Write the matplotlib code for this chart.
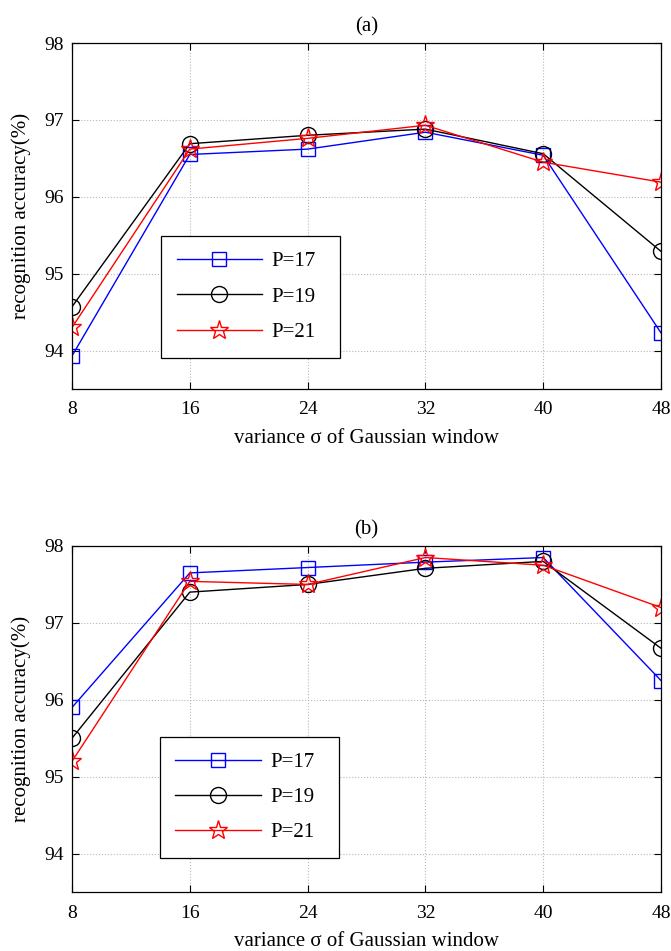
import matplotlib.pyplot as plt

plt.rcParams['font.family'] = ['Liberation Serif', 'DejaVu Serif']

# data
sigma = [8, 16, 24, 32, 40, 48]
a_p17 = [93.93, 96.55, 96.62, 96.84, 96.54, 94.23]
a_p19 = [94.57, 96.69, 96.80, 96.88, 96.56, 95.29]
a_p21 = [94.30, 96.62, 96.76, 96.93, 96.45, 96.19]
b_p17 = [95.90, 97.65, 97.72, 97.79, 97.85, 96.25]
b_p19 = [95.50, 97.40, 97.50, 97.71, 97.80, 96.67]
b_p21 = [95.20, 97.54, 97.50, 97.85, 97.75, 97.20]
labels = ['P=17', 'P=19', 'P=21']
yticks = [94, 95, 96, 97, 98]

fig = plt.figure(figsize=(6.71, 9.51), dpi=100)
W, H = 671, 951


def panel(top, bottom, title, s17, s19, s21, leg_box):
    h = bottom - top
    ax = fig.add_axes([72 / W, 1 - bottom / H, (661 - 72) / W, h / H])
    ax.plot(sigma, s17, color='#0000ff', lw=1, marker='s', ms=10, mfc='none', mew=1, label=labels[0])
    ax.plot(sigma, s19, color='black', lw=1, marker='o', ms=11.5, mfc='none', mew=1, label=labels[1])
    ax.plot(sigma, s21, color='#ff0000', lw=1, marker='*', ms=14, mfc='none', mew=1, label=labels[2])
    ax.set_xlim(8, 48)
    ax.set_ylim(93.5, 98)
    ax.set_xticks(sigma)
    ax.set_yticks(yticks)
    ax.grid(True, ls=':', color='#b8b8b8', lw=0.8)
    ax.tick_params(direction='in', top=True, right=True, length=5, labelsize=14)
    ax.tick_params(axis='x', pad=9)
    ax.tick_params(axis='y', pad=6)
    ax.set_xlabel('variance σ of Gaussian window', fontsize=15)
    ax.xaxis.set_label_coords(0.5, -40 / h)
    ax.set_ylabel('recognition accuracy(%)', fontsize=15)
    ax.yaxis.set_label_coords(-(72 - 31) / (661 - 72), 0.5)
    ax.set_title(title, fontsize=15, y=1 + 12 / h, pad=0)
    for s in ax.spines.values():
        s.set_linewidth(0.9)
    leg = ax.legend(loc='lower left', bbox_to_anchor=leg_box, mode='expand', fancybox=False,
                    edgecolor='black', framealpha=1, fontsize=15, handlelength=4.1,
                    labelspacing=0.75, borderpad=0.75, handletextpad=0.45, borderaxespad=0)
    leg.get_frame().set_linewidth(0.9)
    return ax


panel(43, 389, '(a)', a_p17, a_p19, a_p21, (0.151, 0.091, 0.304, 0.352))
panel(546, 892, '(b)', b_p17, b_p19, b_p21, (0.149, 0.098, 0.304, 0.352))

fig.savefig('out.png', dpi=100)
